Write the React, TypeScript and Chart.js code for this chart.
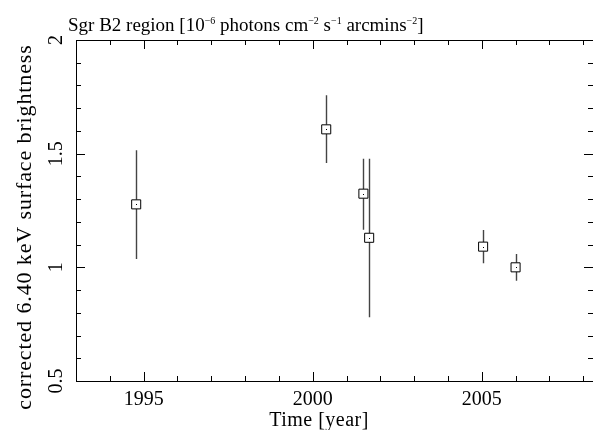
import React, { useEffect, useRef } from "react";
import { Chart, registerables } from "chart.js";

Chart.register(...registerables);

// ---- data ----
const years = [1994.78, 2000.4, 2001.5, 2001.67, 2005.04, 2006.0];
const brightness = [1.277, 1.607, 1.324, 1.13, 1.091, 1.0];
const errLow = [1.037, 1.459, 1.165, 0.78, 1.018, 0.941];
const errHigh = [1.515, 1.757, 1.478, 1.478, 1.164, 1.059];

const xMajorTicks = [1995, 2000, 2005];
const xTickLabels = ["1995", "2000", "2005"];
const yMajorTicks = [0.5, 1, 1.5, 2];
const yTickLabels = ["0.5", "1", "1.5", "2"];

const xMin = 1993;
const xMax = 2008.29;
const yMin = 0.5;
const yMax = 2;

const FONT = '"Liberation Serif", "DejaVu Serif", serif';

const drawPlugin = {
  id: "pgplotFrame",
  beforeDatasetsDraw(chart: any) {
    const ctx = chart.ctx;
    const xs = chart.scales.x;
    const ys = chart.scales.y;
    ctx.save();
    ctx.strokeStyle = "#444";
    ctx.lineWidth = 1.4;
    const half = 4.5;
    for (let i = 0; i < years.length; i++) {
      const px = Math.round(xs.getPixelForValue(years[i])) + 0.5;
      const pc = ys.getPixelForValue(brightness[i]);
      const pHi = ys.getPixelForValue(errHigh[i]);
      const pLo = ys.getPixelForValue(errLow[i]);
      ctx.beginPath();
      ctx.moveTo(px, pHi);
      ctx.lineTo(px, pc - half);
      ctx.moveTo(px, pc + half);
      ctx.lineTo(px, pLo);
      ctx.stroke();
    }
    ctx.restore();
  },
  afterDatasetsDraw(chart: any) {
    const ctx = chart.ctx;
    const xs = chart.scales.x;
    const ys = chart.scales.y;
    ctx.save();
    ctx.fillStyle = "#000";
    for (let i = 0; i < years.length; i++) {
      const px = Math.round(xs.getPixelForValue(years[i]));
      const py = Math.round(ys.getPixelForValue(brightness[i]));
      ctx.fillRect(px, py, 1, 1);
    }
    ctx.restore();
  },
  afterDraw(chart: any) {
    const ctx = chart.ctx;
    const a = chart.chartArea;
    const xs = chart.scales.x;
    const ys = chart.scales.y;
    ctx.save();
    ctx.strokeStyle = "#000";
    ctx.lineWidth = 1;
    // frame
    ctx.strokeRect(Math.round(a.left) + 0.5, Math.round(a.top) + 0.5, Math.round(a.right - a.left), Math.round(a.bottom - a.top));

    // x ticks (every year, major every 5)
    ctx.beginPath();
    for (let yr = Math.ceil(xMin); yr <= Math.floor(xMax); yr++) {
      const px = Math.round(xs.getPixelForValue(yr)) + 0.5;
      const len = xMajorTicks.includes(yr) ? 9 : 5;
      ctx.moveTo(px, a.bottom);
      ctx.lineTo(px, a.bottom - len);
      ctx.moveTo(px, a.top);
      ctx.lineTo(px, a.top + len);
    }
    // y ticks (every 0.1, major every 0.5)
    for (let k = 5; k <= 20; k++) {
      const v = k / 10;
      const py = Math.round(ys.getPixelForValue(v)) + 0.5;
      const len = k % 5 === 0 ? 9 : 5;
      ctx.moveTo(a.left, py);
      ctx.lineTo(a.left + len, py);
      ctx.moveTo(a.right, py);
      ctx.lineTo(a.right - len, py);
    }
    ctx.stroke();

    ctx.fillStyle = "#000";
    // x tick labels
    ctx.font = `20px ${FONT}`;
    ctx.textAlign = "center";
    ctx.textBaseline = "alphabetic";
    xMajorTicks.forEach((t, i) => {
      ctx.fillText(xTickLabels[i], xs.getPixelForValue(t), 405);
    });
    // y tick labels rotated
    yMajorTicks.forEach((t, i) => {
      ctx.save();
      ctx.translate(62, ys.getPixelForValue(t));
      ctx.rotate(-Math.PI / 2);
      ctx.textAlign = "center";
      ctx.fillText(yTickLabels[i], 0, 0);
      ctx.restore();
    });
    // x title
    ctx.save();
    (ctx as any).letterSpacing = "0.5px";
    ctx.fillText("Time [year]", 319, 426);
    ctx.restore();
    // y title
    ctx.save();
    ctx.font = `20px ${FONT}`;
    (ctx as any).letterSpacing = "0.8px";
    ctx.translate(31, 227);
    ctx.rotate(-Math.PI / 2);
    ctx.scale(1.1, 1);
    ctx.textAlign = "center";
    ctx.fillText("corrected 6.40 keV surface brightness", 0, 0);
    ctx.restore();

    // plot title with superscripts
    const segs: [string, boolean][] = [
      ["Sgr B2 region [10", false],
      ["\u22126", true],
      [" photons cm", false],
      ["\u22122", true],
      [" s", false],
      ["\u22121", true],
      [" arcmins", false],
      ["\u22122", true],
      ["]", false],
    ];
    let x = 68;
    const base = 31;
    ctx.textAlign = "left";
    for (const [s, sup] of segs) {
      ctx.font = sup ? `10px ${FONT}` : `19px ${FONT}`;
      ctx.fillText(s, x, sup ? base - 7 : base);
      x += ctx.measureText(s).width;
    }
    ctx.restore();
  },
};

export default function App() {
  const ref = useRef<HTMLCanvasElement | null>(null);
  useEffect(() => {
    if (!ref.current) return;
    const chart = new Chart(ref.current, {
      type: "scatter",
      data: {
        datasets: [
          {
            data: years.map((y, i) => ({ x: y, y: brightness[i] })),
            pointStyle: "rect",
            pointRadius: 6.4,
            pointHoverRadius: 6.4,
            borderColor: "#000",
            backgroundColor: "#fff",
            borderWidth: 1,
          },
        ],
      },
      options: {
        responsive: false,
        animation: false,
        events: [],
        layout: { autoPadding: false, padding: { left: 76, top: 40, right: -1, bottom: 49 } },
        plugins: { legend: { display: false }, tooltip: { enabled: false }, title: { display: false } },
        scales: {
          x: { type: "linear", min: xMin, max: xMax, display: false },
          y: { type: "linear", min: yMin, max: yMax, display: false },
        },
      },
      plugins: [drawPlugin],
    });
    return () => chart.destroy();
  }, []);
  return (
    <div style={{ position: "absolute", left: 0, top: 0, width: 593, height: 430, background: "#fff" }}>
      <canvas ref={ref} width={593} height={430} style={{ width: 593, height: 430 }} />
    </div>
  );
}
